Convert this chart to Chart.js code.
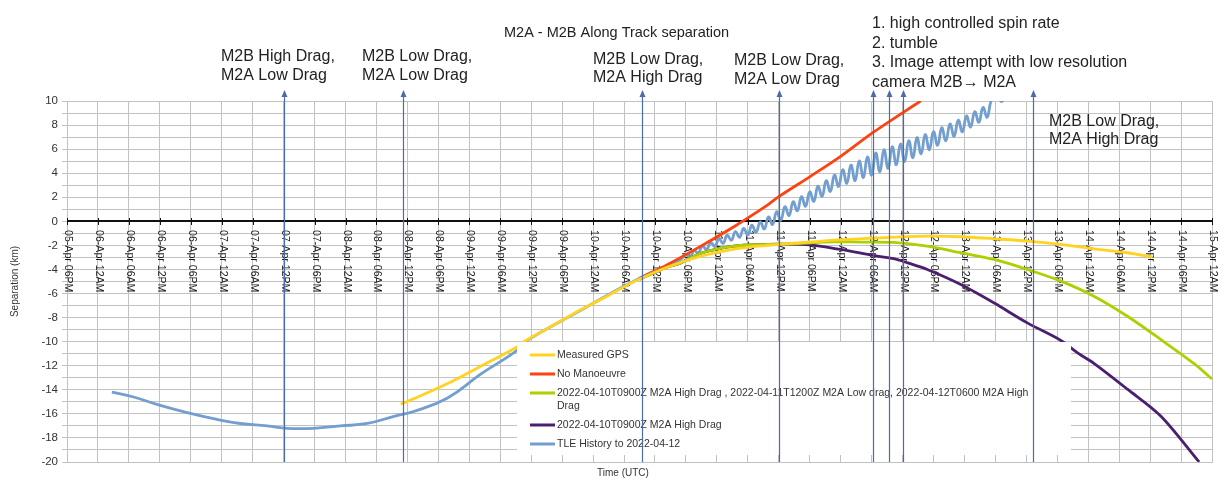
<!DOCTYPE html>
<html>
<head>
<meta charset="utf-8">
<script src="https://cdn.jsdelivr.net/npm/chart.js@4.4.1/dist/chart.umd.min.js"></script>
<style>
  html, body { margin: 0; padding: 0; background: #fff; }
</style>
</head>
<body>
<canvas id="sepChart" width="1225" height="481"></canvas>
<script>
"use strict";

// hours since 2022-04-05 18:00 UTC, separation in km
const xTickLabels = [
  "05-Apr 06PM", "06-Apr 12AM", "06-Apr 06AM", "06-Apr 12PM", "06-Apr 06PM",
  "07-Apr 12AM", "07-Apr 06AM", "07-Apr 12PM", "07-Apr 06PM",
  "08-Apr 12AM", "08-Apr 06AM", "08-Apr 12PM", "08-Apr 06PM",
  "09-Apr 12AM", "09-Apr 06AM", "09-Apr 12PM", "09-Apr 06PM",
  "10-Apr 12AM", "10-Apr 06AM", "10-Apr 12PM", "10-Apr 06PM",
  "11-Apr 12AM", "11-Apr 06AM", "11-Apr 12PM", "11-Apr 06PM",
  "12-Apr 12AM", "12-Apr 06AM", "12-Apr 12PM", "12-Apr 06PM",
  "13-Apr 12AM", "13-Apr 06AM", "13-Apr 12PM", "13-Apr 06PM",
  "14-Apr 12AM", "14-Apr 06AM", "14-Apr 12PM", "14-Apr 06PM",
  "15-Apr 12AM"
];

const gpsHours = [64.7, 68, 73.7, 80.2, 87, 89, 94, 99.6, 103.5, 110, 116.4, 122.9, 129.3, 135.8, 142.3, 148.7, 155.2, 160.3, 166.8, 173.3, 179.7, 186.2, 192.7, 199.1, 205.6, 210.5];
const gpsKm = [-15.2, -14.6, -13.5, -12.05, -10.5, -9.9, -8.7, -7.35, -6.5, -5.0, -3.8, -2.9, -2.3, -2.0, -1.78, -1.56, -1.42, -1.32, -1.23, -1.28, -1.45, -1.64, -1.92, -2.28, -2.61, -2.98];

const noManHours = [111, 116.4, 122.9, 129.3, 135.8, 138, 144, 150, 156.5, 165.5];
const noManKm = [-4.75, -3.6, -2.06, -0.45, 1.35, 2.05, 3.7, 5.4, 7.45, 10.0];

const mixHours = [111, 116.4, 119, 122.9, 129.3, 135.8, 138, 142.3, 148.7, 153.9, 160.3, 166.8, 173.3, 179.7, 186.2, 192.7, 199.1, 205.6, 212.1, 218.6, 222];
const mixKm = [-4.8, -3.8, -3.45, -2.65, -2.06, -1.92, -1.9, -1.82, -1.7, -1.72, -1.75, -2.06, -2.61, -3.17, -4.0, -4.97, -6.22, -7.89, -9.83, -11.85, -13.1];

const highHours = [111, 116.4, 119, 122.9, 129.3, 135.8, 138, 144, 150, 156.5, 160.3, 163, 166.8, 173.3, 179.7, 186.2, 192.7, 196, 199.1, 205.6, 212.1, 219.5];
const highKm = [-4.8, -3.8, -3.45, -2.65, -2.06, -1.92, -1.9, -1.95, -2.34, -2.85, -3.1, -3.45, -4.0, -5.25, -6.77, -8.44, -9.9, -10.95, -11.8, -13.95, -16.2, -20.0];

const tleHours = [
  8.7, 12.9, 18.1, 23.3, 28.4, 33.6, 38.8, 42.7, 47.8, 53, 58.2, 63.4, 67.2, 73.7, 80.2, 87, 89, 99.6, 106, 110, 113, 116.4, 119,
  120, 120.8, 121.6, 122.4, 123.2, 124, 124.8, 125.6, 126.4, 127.2, 128, 128.8, 129.6, 130.4, 131.2, 132, 132.8, 133.6,
  134.4, 135.2, 136, 136.8, 137.6, 138.4, 139.2, 140, 140.8, 141.6, 142.4, 143.2, 144, 144.8, 145.6, 146.4, 147.2, 148,
  148.8, 149.6, 150.4, 151.2, 152, 152.8, 153.6, 154.4, 155.2, 156, 156.8, 157.6, 158.4, 159.2, 160, 160.8, 161.6, 162.4,
  163.2, 164, 164.8, 165.6, 166.4, 167.2, 168, 168.8, 169.6, 170.4, 171.2, 172, 172.8, 173.6, 174.4, 175.2, 176, 176.8,
  177.6, 178.4, 179.2, 180.2, 181.2, 182
];
const tleKm = [
  -14.2, -14.6, -15.3, -15.9, -16.4, -16.8, -17.0, -17.2, -17.2, -17.0, -16.8, -16.2, -15.8, -14.7, -12.7, -10.8, -9.95, -7.4, -5.85, -4.95, -4.3, -3.7, -3.15,
  -2.78, -3.0, -2.42, -2.64, -2.05, -2.35, -1.76, -2.09, -1.45, -1.83, -1.15, -1.57, -0.85, -1.33, -0.58, -1.13, -0.31, -0.91,
  -0.05, -0.63, 0.36, -0.26, 0.79, 0.1, 1.21, 0.48, 1.62, 0.87, 2.04, 1.25, 2.45, 1.66, 2.91, 2.08, 3.38, 2.49,
  3.85, 2.9, 4.29, 3.16, 4.67, 3.38, 5.01, 3.64, 5.35, 3.85, 5.68, 4.12, 5.95, 4.4, 6.2, 4.7, 6.43, 4.97,
  6.7, 5.29, 6.96, 5.61, 7.21, 5.95, 7.45, 6.32, 7.77, 6.7, 8.09, 7.07, 8.41, 7.44, 8.75, 7.84, 9.11, 8.24,
  9.46, 8.65, 10.05, 10.6, 9.95, 10.7
];

// vertical event arrows (hours)
const eventHours = [42, 65.2, 111.4, 138, 156.2, 159.4, 162, 187.3];

const notes = [
  { x: 221, y: 57, lines: ["M2B High Drag,", "M2A Low Drag"] },
  { x: 362, y: 57, lines: ["M2B Low Drag,", "M2A Low Drag"] },
  { x: 593, y: 59.5, lines: ["M2B Low Drag,", "M2A High Drag"] },
  { x: 734, y: 61, lines: ["M2B Low Drag,", "M2A Low Drag"] },
  { x: 872, y: 24, step: 19.5, lines: ["1. high controlled spin rate", "2. tumble", "3. Image attempt with low resolution", "camera M2B\u2192 M2A"] },
  { x: 1049, y: 121.5, lines: ["M2B Low Drag,", "M2A High Drag"] },
];

const FONT = "'Liberation Sans', Arial, sans-serif";
const GRID = "#c2c2c2";
const ARROW = "#4a6ca8";

Chart.defaults.font.family = FONT;

function pts(hs, ks) {
  return hs.map((h, i) => ({ x: h, y: ks[i] }));
}

function line(label, hs, ks, color, tension) {
  return {
    label: label,
    data: pts(hs, ks),
    borderColor: color,
    backgroundColor: color,
    borderWidth: 2.8,
    pointRadius: 0,
    fill: false,
    tension: tension,
  };
}

const overlay = {
  id: "overlay",
  beforeDatasetsDraw(chart) {
    const { ctx, chartArea: a, scales: { x, y } } = chart;
    const y0 = Math.round(y.getPixelForValue(0));
    ctx.save();
    ctx.strokeStyle = "#111";
    ctx.lineWidth = 2;
    ctx.beginPath();
    ctx.moveTo(a.left, y0);
    ctx.lineTo(a.right, y0);
    ctx.stroke();
    ctx.lineWidth = 1;
    ctx.fillStyle = "#1a1a1a";
    ctx.font = "10.6px " + FONT;
    ctx.textAlign = "left";
    ctx.textBaseline = "middle";
    xTickLabels.forEach((lab, i) => {
      const px = Math.round(x.getPixelForValue(i * 6)) + 0.5;
      ctx.beginPath();
      ctx.moveTo(px, y0 - 3);
      ctx.lineTo(px, y0 + 4);
      ctx.stroke();
      ctx.save();
      ctx.translate(px, y0 + 9);
      ctx.rotate(Math.PI / 2);
      ctx.fillText(lab, 0, 0);
      ctx.restore();
    });
    ctx.restore();
  },
  afterDatasetsDraw(chart) {
    const { ctx, chartArea: a, scales: { x } } = chart;
    ctx.save();

    // legend box sits over the plot
    ctx.fillStyle = "#fff";
    ctx.fillRect(517, 342, 554, 113);
    ctx.font = "10.5px " + FONT;
    ctx.textAlign = "left";
    ctx.textBaseline = "middle";
    let ly = 355;
    chart.data.datasets.forEach((ds) => {
      ctx.strokeStyle = ds.borderColor;
      ctx.lineWidth = 3;
      ctx.beginPath();
      ctx.moveTo(530, ly);
      ctx.lineTo(555, ly);
      ctx.stroke();
      // simple word wrap
      const words = ds.label.split(" ");
      const rows = [];
      let cur = "";
      words.forEach((w) => {
        const t = cur ? cur + " " + w : w;
        if (ctx.measureText(t).width > 480 && cur) {
          rows.push(cur);
          cur = w;
        } else {
          cur = t;
        }
      });
      rows.push(cur);
      ctx.fillStyle = "#333";
      rows.forEach((r, k) => ctx.fillText(r, 557, ly + k * 13));
      ly += 19 + 13 * (rows.length - 1);
    });

    // event arrows
    ctx.strokeStyle = ARROW;
    ctx.fillStyle = ARROW;
    ctx.lineWidth = 1.2;
    eventHours.forEach((h) => {
      const px = Math.round(x.getPixelForValue(h)) + 0.5;
      ctx.beginPath();
      ctx.moveTo(px, a.bottom);
      ctx.lineTo(px, a.top - 5);
      ctx.stroke();
      ctx.beginPath();
      ctx.moveTo(px, a.top - 11);
      ctx.lineTo(px - 3, a.top - 4);
      ctx.lineTo(px + 3, a.top - 4);
      ctx.closePath();
      ctx.fill();
    });
    ctx.restore();
  },
  afterDraw(chart) {
    const { ctx } = chart;
    ctx.save();
    ctx.fillStyle = "#222";
    ctx.textAlign = "left";
    ctx.textBaseline = "middle";
    ctx.font = "14.5px " + FONT;
    ctx.fillText("M2A - M2B Along Track separation", 504, 33);
    ctx.font = "16px " + FONT;
    notes.forEach((n) => {
      const step = n.step || 18.5;
      n.lines.forEach((t, k) => ctx.fillText(t, n.x, n.y + k * step));
    });
    ctx.fillStyle = "#333";
    ctx.font = "10px " + FONT;
    ctx.textAlign = "center";
    ctx.fillText("Time (UTC)", 623, 473);
    ctx.restore();
  },
};

const ctx = document.getElementById("sepChart").getContext("2d");

const sepChart = new Chart(ctx, {
  type: "line",
  data: {
    datasets: [
      line("Measured GPS", gpsHours, gpsKm, "#ffd320", 0.3),
      line("No Manoeuvre", noManHours, noManKm, "#ff420e", 0.3),
      line("2022-04-10T0900Z M2A High Drag , 2022-04-11T1200Z M2A Low drag, 2022-04-12T0600 M2A High Drag", mixHours, mixKm, "#aecf00", 0.3),
      line("2022-04-10T0900Z M2A High Drag", highHours, highKm, "#4b1f6f", 0.3),
      line("TLE History to 2022-04-12", tleHours, tleKm, "#729fcf", 0.45),
    ],
  },
  options: {
    responsive: false,
    animation: false,
    layout: { padding: { top: 101, right: 13, left: 0, bottom: 0 } },
    plugins: {
      legend: { display: false },
      tooltip: { enabled: false },
    },
    scales: {
      x: {
        type: "linear",
        min: 0,
        max: 222,
        ticks: { display: false, stepSize: 6 },
        grid: { color: GRID, drawTicks: false },
        border: { color: GRID },
        afterFit(s) { s.height = 19; },
      },
      y: {
        min: -20,
        max: 10,
        ticks: {
          stepSize: 1,
          autoSkip: false,
          padding: 4,
          color: "#333",
          font: { size: 11.5 },
          callback: (v) => (Math.round(v) % 2 === 0 ? String(v) : ""),
        },
        grid: { color: GRID, tickLength: 5 },
        border: { color: GRID },
        title: {
          display: true,
          text: "Separation (km)",
          color: "#333",
          font: { size: 10 },
          padding: { top: 9, bottom: 0 },
        },
        afterFit(s) { s.width = 67; },
      },
    },
  },
  plugins: [overlay],
});
</script>
</body>
</html>
